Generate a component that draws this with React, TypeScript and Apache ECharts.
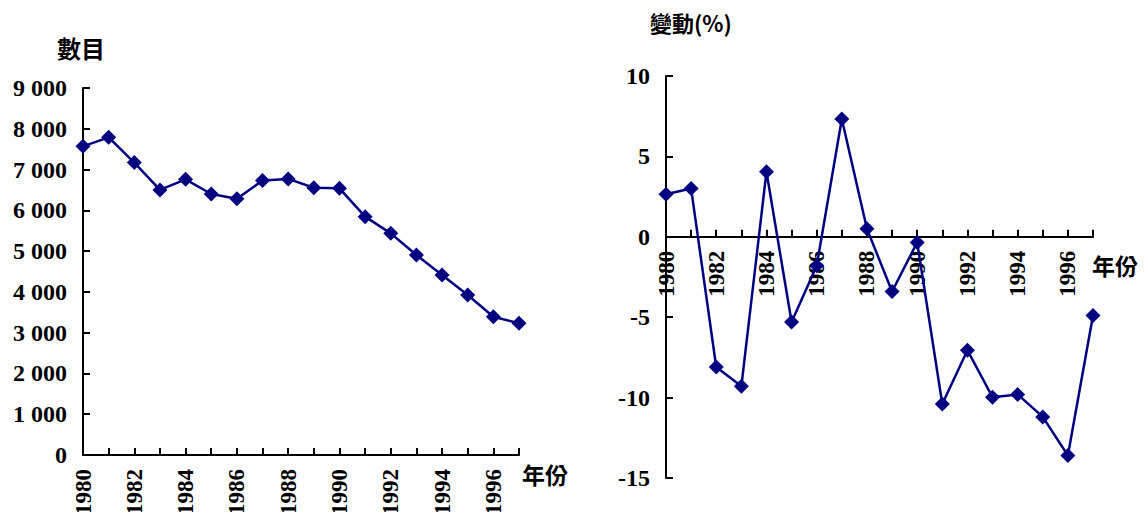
import React, { useEffect, useRef } from "react";
import * as echarts from "echarts";

const years = ["1980","1981","1982","1983","1984","1985","1986","1987","1988","1989","1990","1991","1992","1993","1994","1995","1996","1997"];
const counts = [7570, 7790, 7170, 6500, 6760, 6400, 6285, 6730, 6770, 6555, 6540, 5845, 5435, 4905, 4415, 3925, 3390, 3230];
const changes = [2.65, 3.0, -8.1, -9.3, 4.05, -5.3, -1.8, 7.33, 0.5, -3.4, -0.35, -10.4, -7.05, -9.98, -9.8, -11.2, -13.6, -4.9];
const countTicks = { min: 0, max: 9000, interval: 1000 };
const changeTicks = { min: -15, max: 10, interval: 5 };

const NUM_FONT = "'Liberation Serif', 'Times New Roman', serif";
const CJK_FONT = "'Noto Sans CJK TC', 'Noto Sans CJK SC', sans-serif";
const NAVY = "#000080";

const RIGHT_GRID = { left: 666, top: 76, width: 427, height: 402 };

export default function App() {
  const ref = useRef<HTMLDivElement>(null);
  useEffect(() => {
    const chart = echarts.init(ref.current!, null, { renderer: "svg" });
    const axisLine = { show: true, onZero: false, lineStyle: { color: "#000", width: 2 } };
    const axisTick = { show: true, inside: true, length: 7, lineStyle: { color: "#000", width: 2 } };
    const numLabel = { fontFamily: NUM_FONT, fontWeight: "bold", fontSize: 24, color: "#000" };
    // offset that places the right chart's category axis at value 0
    const zeroOffset = -RIGHT_GRID.height * (0 - changeTicks.min) / (changeTicks.max - changeTicks.min);
    const xAxisBase = (gridIndex: number, offset: number) => ({
      type: "category",
      gridIndex,
      position: "bottom",
      offset,
      data: years,
      boundaryGap: false,
      axisLine,
      axisTick: { ...axisTick, interval: 0 },
      axisLabel: { ...numLabel, fontSize: 23, rotate: 90, interval: 1, margin: 14 },
      splitLine: { show: false },
    });
    const series = (data: number[], idx: number) => ({
      type: "line",
      xAxisIndex: idx,
      yAxisIndex: idx,
      data,
      symbol: "diamond",
      symbolSize: 15,
      clip: false,
      lineStyle: { color: NAVY, width: 2.5 },
      itemStyle: { color: NAVY },
      z: 5,
    });
    chart.setOption({
      animation: false,
      grid: [
        { left: 83, top: 88, width: 436, height: 367, outerBoundsMode: "none", containLabel: false },
        { ...RIGHT_GRID, outerBoundsMode: "none", containLabel: false },
      ],
      xAxis: [xAxisBase(0, 0), xAxisBase(1, zeroOffset)],
      yAxis: [
        {
          type: "value",
          gridIndex: 0,
          ...countTicks,
          axisLine,
          axisTick,
          splitLine: { show: false },
          axisLabel: {
            ...numLabel,
            margin: 16,
            formatter: (v: number) => String(v).replace(/\B(?=(\d{3})+(?!\d))/g, " "),
          },
        },
        {
          type: "value",
          gridIndex: 1,
          ...changeTicks,
          axisLine,
          axisTick,
          splitLine: { show: false },
          axisLabel: { ...numLabel, margin: 16 },
        },
      ],
      series: [series(counts, 0), series(changes, 1)],
      graphic: [
        { type: "text", left: 57, top: 35, style: { text: "數目", font: `bold 24px ${CJK_FONT}`, fill: "#000" } },
        { type: "text", left: 650, top: 11, style: { text: "變動(%)", font: `bold 22px ${CJK_FONT}`, fill: "#000" } },
        { type: "text", left: 522, top: 462, style: { text: "年份", font: `bold 23px ${CJK_FONT}`, fill: "#000" } },
        { type: "text", left: 1092, top: 253, style: { text: "年份", font: `bold 23px ${CJK_FONT}`, fill: "#000" } },
      ],
    });
    return () => chart.dispose();
  }, []);
  return <div ref={ref} style={{ position: "fixed", left: 0, top: 0, width: 1147, height: 512, background: "#fff" }} />;
}
